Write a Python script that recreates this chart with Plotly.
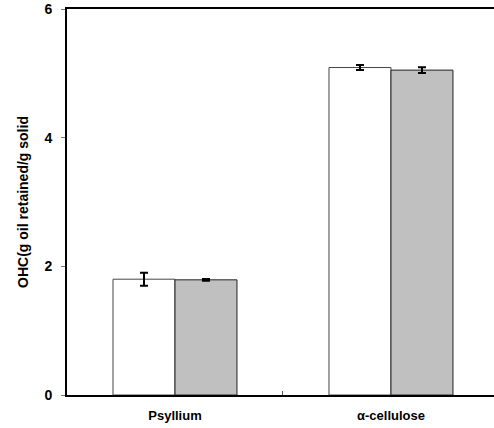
import plotly.graph_objects as go

categories = ["Psyllium", "α-cellulose"]
series_a = [1.80, 5.09]
series_a_err = [0.10, 0.04]
series_b = [1.79, 5.05]
series_b_err = [0.015, 0.045]
y_ticks = [0, 2, 4, 6]

fam = "Liberation Sans, Arial, sans-serif"

fig = go.Figure()
fig.add_trace(go.Bar(
    x=categories, y=series_a,
    marker=dict(color="white", line=dict(color="#444444", width=1)),
    error_y=dict(type="data", array=series_a_err, color="black", thickness=2, width=4),
    showlegend=False,
))
fig.add_trace(go.Bar(
    x=categories, y=series_b,
    marker=dict(color="#c0c0c0", line=dict(color="#222222", width=1)),
    error_y=dict(type="data", array=series_b_err, color="black", thickness=2, width=4),
    showlegend=False,
))

fig.update_layout(
    width=494, height=428,
    margin=dict(l=67, r=0, t=9, b=33),
    plot_bgcolor="white", paper_bgcolor="white",
    barmode="group", bargap=0.426, bargroupgap=0,
    font=dict(family=fam, color="black"),
)
fig.update_xaxes(
    type="category",
    range=[-0.5, 1.477],
    tickvals=categories,
    ticktext=["<b>" + c + "</b>" for c in categories],
    showline=True, linecolor="black", linewidth=2, mirror=True,
    ticks="inside", tickson="boundaries", ticklen=4, tickcolor="#555555", tickwidth=1,
    tickfont=dict(size=13, family=fam, color="black"),
    ticklabelstandoff=7,
    showgrid=False, zeroline=False,
)
fig.update_yaxes(
    range=[0, 6],
    tickvals=y_ticks,
    ticktext=["<b>" + str(v) + "</b>" for v in y_ticks],
    showline=True, linecolor="black", linewidth=2,
    ticks="outside", ticklen=4, tickcolor="#777777", tickwidth=1,
    tickfont=dict(size=14, family=fam, color="black"),
    ticklabelstandoff=6,
    showgrid=False, zeroline=False,
    title=dict(text="<b>OHC(g oil retained/g solid</b>", font=dict(size=14, family=fam, color="black"), standoff=13),
)

fig.write_html("out.html")
